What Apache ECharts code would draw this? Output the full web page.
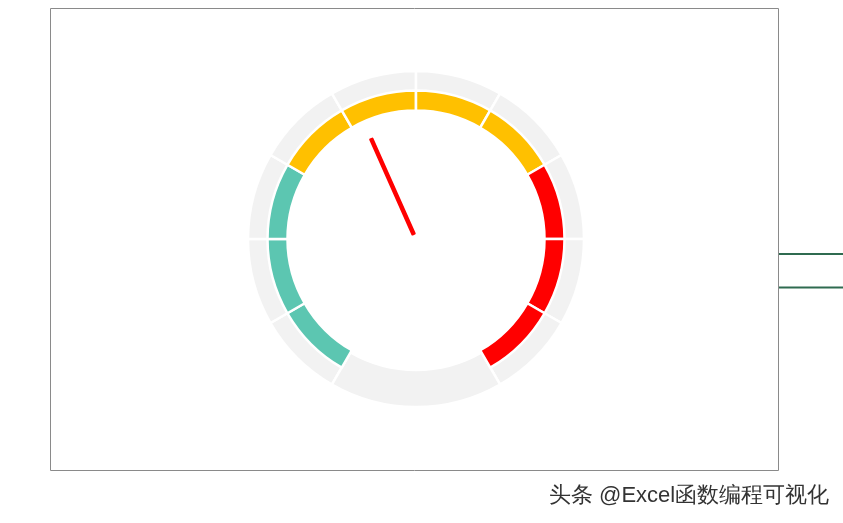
<!DOCTYPE html>
<html>
<head>
<meta charset="utf-8">
<style>
html,body{margin:0;padding:0;background:#fff;}
#c{width:843px;height:523px;}
</style>
<script src="https://cdn.jsdelivr.net/npm/echarts@6/dist/echarts.min.js"></script>
</head>
<body>
<div id="c"></div>
<script>
// Outer track: 10 scale segments + bottom gap segment
var outerNames = ['s1','s2','s3','s4','s5','s6','s7','s8','s9','s10','gap'];
var outerValues = [1,1,1,1,1,1,1,1,1,1,2];
// Inner coloured band
var innerNames = ['g1','g2','g3','y1','y2','y3','y4','r1','r2','r3','gap'];
var innerValues = [1,1,1,1,1,1,1,1,1,1,2];
var innerColors = ['#5cc6b1','#5cc6b1','#5cc6b1','#ffc000','#ffc000','#ffc000','#ffc000','#ff0000','#ff0000','#ff0000','transparent'];
// Needle
var gaugeMin = 0, gaugeMax = 100;
var needleValue = 42;
var watermark = '头条 @Excel函数编程可视化';

var chart = echarts.init(document.getElementById('c'), null, {renderer:'canvas'});
var option = {
  backgroundColor: '#ffffff',
  animation: false,
  graphic: [
    {type:'rect', shape:{x:50.5, y:8.5, width:728, height:462}, style:{fill:'none', stroke:'#8a8a8a', lineWidth:1}, z:0},
    {type:'line', shape:{x1:779, y1:254, x2:843, y2:254}, style:{stroke:'#2f6b50', lineWidth:2}},
    {type:'line', shape:{x1:779, y1:287.5, x2:843, y2:287.5}, style:{stroke:'#2f6b50', lineWidth:2}},
    {type:'text', left:549, top:485, style:{text: watermark, fontSize:22, fill:'#333333',
      font:'22px "Noto Sans CJK SC", sans-serif', textShadowColor:'rgba(255,255,255,0.9)', textShadowOffsetX:1, textShadowOffsetY:1, textShadowBlur:1}}
  ],
  series: [
    {
      type:'pie', center:[416,239], radius:[131,168], startAngle:240, clockwise:true,
      silent:true, label:{show:false}, labelLine:{show:false},
      itemStyle:{color:'#f2f2f2', borderColor:'#ffffff', borderWidth:2.5},
      data: outerNames.map(function(n,i){return {name:n, value:outerValues[i]};}),
      z:1
    },
    {
      type:'pie', center:[416,239], radius:[128.5,148.5], startAngle:240, clockwise:true,
      silent:true, label:{show:false}, labelLine:{show:false},
      data: innerNames.map(function(n,i){
        var last = innerColors[i]==='transparent';
        return {name:n, value:innerValues[i], itemStyle:{color:innerColors[i], borderColor:last?'transparent':'#ffffff', borderWidth:last?0:2.5}};
      }),
      z:2
    },
    {
      type:'gauge', center:[414,235], radius:167, startAngle:240, endAngle:-60,
      min:gaugeMin, max:gaugeMax,
      axisLine:{show:false}, splitLine:{show:false}, axisTick:{show:false}, axisLabel:{show:false},
      anchor:{show:false}, title:{show:false}, detail:{show:false},
      pointer:{show:true, icon:'roundRect', length:106, width:4.5, itemStyle:{color:'#ff0000'}},
      data:[{value:needleValue}],
      z:3
    }
  ]
};
chart.setOption(option);
</script>
</body>
</html>
